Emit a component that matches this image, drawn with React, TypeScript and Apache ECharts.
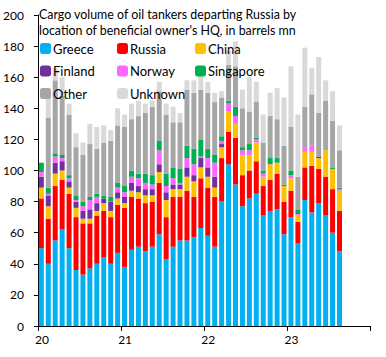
import React, { useEffect, useRef } from "react";
import * as echarts from "echarts";

// Monthly slots Jan 2020 .. Dec 2023; data covers Jan 2020 .. Aug 2023 (44 months)
const months: string[] = [
  "2020-01","2020-02","2020-03","2020-04","2020-05","2020-06","2020-07","2020-08","2020-09","2020-10","2020-11","2020-12",
  "2021-01","2021-02","2021-03","2021-04","2021-05","2021-06","2021-07","2021-08","2021-09","2021-10","2021-11","2021-12",
  "2022-01","2022-02","2022-03","2022-04","2022-05","2022-06","2022-07","2022-08","2022-09","2022-10","2022-11","2022-12",
  "2023-01","2023-02","2023-03","2023-04","2023-05","2023-06","2023-07","2023-08","2023-09","2023-10","2023-11","2023-12",
];

const greece = [50,40,55,62,50,36,33,37,40,44,40,47, 38,49,51,48,51,59,43,51,55,55,57,63, 58,51,80,104,91,77,82,85,71,74,75,59, 70,53,81,73,79,71,60,48];
const russia = [32,29,35,32,35,34,33,29,31,30,30,31, 38,34,31,31,29,33,27,32,28,32,26,32, 31,32,28,21,30,20,18,21,19,20,23,21, 17,14,21,30,22,25,28,26];
const china = [7,8,8,6,4,6,3,3,3,5,4,4, 3,4,4,5,4,7,11,5,5,9,10,7, 7,6,7,13,9,13,10,12,6,10,7,10, 8,4,10,9,7,17,13,13];
const finland = [7,7,7,6,4,4,5,6,5,3,6,4, 4,5,4,4,4,5,5,3,3,6,4,6, 6,7,2,0,0,0,0,0,0,0,0,0, 0,0,0,0,1,0,0,0];
const norway = [3,1,4,2,2,1,3,6,4,0,0,3, 3,4,5,4,3,9,4,4,1,6,7,1, 6,9,2,5,5,3,3,2,2,0,0,0, 2,1,3,4,0,0,0,1];
const singapore = [6,4,2,2,2,3,3,2,2,2,3,3, 4,4,3,6,6,6,8,7,9,8,10,11, 6,5,3,2,6,2,4,1,2,4,3,1, 3,3,0,0,0,0,1,1];
const other = [0,45,47,38,39,31,30,34,29,34,36,37, 38,33,37,39,44,32,38,29,30,36,36,32, 36,34,25,23,26,25,21,23,18,27,25,25, 28,21,26,33,28,32,30,24];
const unknown = [0,14,8,12,7,9,8,13,14,11,7,11, 8,10,10,6,4,6,7,10,6,6,8,11, 7,6,4,9,16,12,22,13,18,15,20,31, 39,40,38,17,36,13,19,16];

const yearLabels = ["20", "21", "22", "23"];

const seriesDefs = [
  { name: "Greece", data: greece, color: "#00B0F0" },
  { name: "Russia", data: russia, color: "#FF0000" },
  { name: "China", data: china, color: "#FFC000" },
  { name: "Finland", data: finland, color: "#7030A0" },
  { name: "Norway", data: norway, color: "#FF66FF" },
  { name: "Singapore", data: singapore, color: "#00B050" },
  { name: "Other", data: other, color: "#A6A6A6" },
  { name: "Unknown", data: unknown, color: "#D9D9D9" },
];

const FONT = "Lato, 'Open Sans', sans-serif";

export default function App() {
  const ref = useRef<HTMLDivElement>(null);
  useEffect(() => {
    if (!ref.current) return;
    const chart = echarts.init(ref.current, undefined, { renderer: "svg" });
    const legendBase = {
      orient: "vertical",
      top: 42,
      padding: 0,
      itemWidth: 11,
      itemHeight: 11,
      itemGap: 9.5,
      icon: "roundRect",
      selectedMode: false,
      textStyle: { fontSize: 13, color: "#000", fontFamily: FONT, lineHeight: 13, padding: [0, 0, 0, -3] },
    };
    chart.setOption({
      animation: false,
      textStyle: { fontFamily: FONT },
      title: {
        text: "Cargo volume of oil tankers departing Russia by\nlocation of beneficial owner's HQ, in barrels mn",
        left: 39,
        top: 6,
        padding: 0,
        textStyle: { fontSize: 12.4, fontWeight: "normal", color: "#000", lineHeight: 16, fontFamily: FONT },
      },
      legend: [
        { ...legendBase, left: 40, data: ["Greece", "Finland", "Other"] },
        { ...legendBase, left: 117, data: ["Russia", "Norway", "Unknown"] },
        { ...legendBase, left: 195, data: ["China", "Singapore"] },
      ],
      grid: { left: 37.7, right: 15.3, top: 15, bottom: 31, containLabel: false },
      xAxis: [
        {
          type: "category",
          data: months,
          boundaryGap: true,
          axisLine: { show: false },
          axisTick: { show: false },
          axisLabel: { show: false },
          splitLine: { show: false },
        },
        {
          type: "value",
          position: "bottom",
          min: 0,
          max: 48,
          interval: 12,
          axisLine: { show: true, onZero: false, lineStyle: { color: "#000", width: 1 } },
          axisTick: { show: true, length: 5, lineStyle: { color: "#000" } },
          splitLine: { show: false },
          axisLabel: {
            fontSize: 12,
            color: "#000",
            fontFamily: FONT,
            margin: 7,
            padding: [0, 0, 0, 8],
            formatter: (v: number) => yearLabels[Math.round(v / 12)] ?? "",
          },
        },
      ],
      yAxis: {
        type: "value",
        min: 0,
        max: 200,
        interval: 20,
        axisLine: { show: true, lineStyle: { color: "#000", width: 1 } },
        axisTick: { show: true, length: 4, lineStyle: { color: "#000" } },
        splitLine: { show: false },
        axisLabel: { fontSize: 12, color: "#000", fontFamily: FONT, margin: 14 },
      },
      series: seriesDefs.map((s) => ({
        name: s.name,
        type: "bar",
        stack: "total",
        xAxisIndex: 0,
        barWidth: 5,
        itemStyle: { color: s.color },
        data: s.data,
      })),
    });
    return () => chart.dispose();
  }, []);
  return (
    <div
      ref={ref}
      style={{ position: "fixed", left: 0, top: 0, width: 386, height: 357, background: "#fff" }}
    />
  );
}
